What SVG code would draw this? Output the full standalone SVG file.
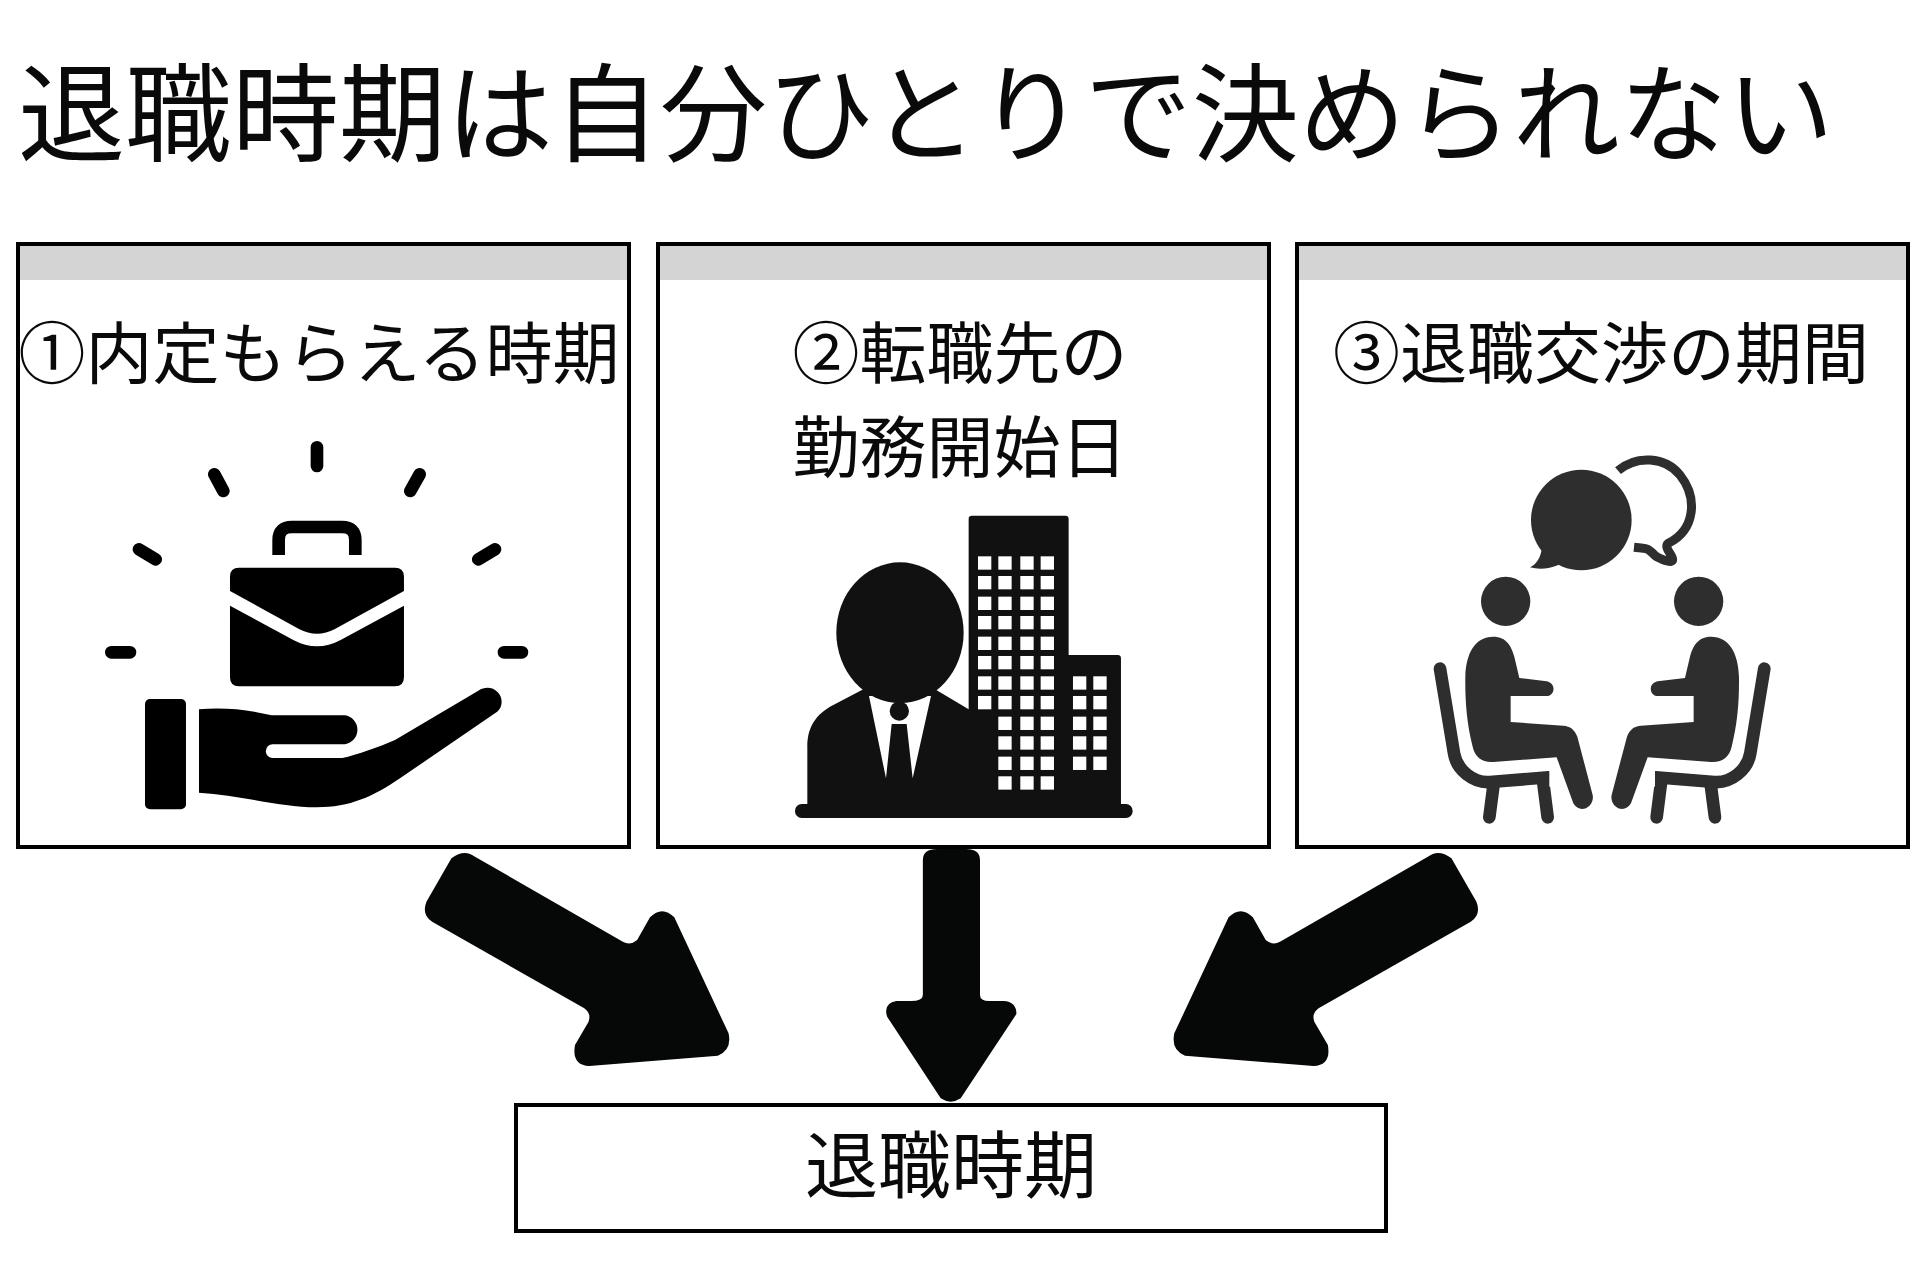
<svg xmlns="http://www.w3.org/2000/svg" width="1920" height="1280" viewBox="0 0 1920 1280">
<style>
text{font-family:"Noto Sans CJK JP","Noto Sans CJK SC",sans-serif;fill:#0a0a0a;font-weight:400}
.title{font-size:107px}
.lbl{font-size:67px;text-anchor:middle}
.box{fill:#fff;stroke:#000;stroke-width:4}
.band{fill:#d4d4d4}
.k{fill:#000}
.b{fill:#111}
.d{fill:#2e2e2e}
.w{fill:#fff}
.ray{stroke:#000;stroke-width:38;stroke-linecap:round;fill:none}
.ch{stroke:#2e2e2e;stroke-width:38;fill:none}
.arrow{fill:#050807}
</style>
<defs>
<rect id="win" class="w" width="40" height="40"/>
<g id="sitter">
<path class="d" d="M250,590C290,590 305,620 313,650L328,714L410,724C440,730 435,768 410,768H302V846L460,857C480,858 495,870 502,890L548,1065C555,1100 510,1125 490,1090L440,952L250,966C215,968 195,950 188,920C170,850 165,780 166,710C168,640 195,590 250,590Z"/>
<circle class="d" cx="287" cy="484" r="74"/>
<path class="ch" stroke-linecap="round" d="M90,686L132,940C140,990 190,1030 240,1026L416,1012"/>
<path class="ch" stroke-linecap="round" d="M250,1040L238,1132M400,1030L413,1132"/>
<path class="w" d="M418,985H440V1040H418Z"/>
</g>
</defs>
<rect width="1920" height="1280" fill="#fff"/>
<text id="title" class="title" x="18" y="153">退職時期は自分ひとりで決められない</text>

<g id="node-1">
<rect class="box" x="18" y="244" width="611" height="603"/>
<rect class="band" x="20" y="246" width="607" height="34"/>
<text class="lbl" x="319" y="378">①内定もらえる時期</text>
<g transform="translate(90,430) scale(.3333)">
<path class="ray" d="M681,52V108M373,133L400,183M147,358L197,388M64,667H120M1296,667H1242M1215,358L1165,388M989,133L961,183"/>
<path d="M566,375V330Q566,291 606,291H756Q796,291 796,330V375" fill="none" stroke="#000" stroke-width="38"/>
<path class="k" d="M420,483V440Q420,413 447,413H915Q942,413 942,440V483L735,597Q681,625 627,597Z"/>
<path class="k" d="M420,527L610,630Q681,668 752,630L942,527V742Q942,769 915,769H447Q420,769 420,742Z"/>
<rect class="k" x="165" y="807" width="123" height="331" rx="15"/>
<path class="k" d="M327,838C400,832 470,838 545,856H765A44,44 0 0 1 765,943H548A20,20 0 0 0 548,984H757C800,975 870,950 915,930L1165,782C1200,760 1235,785 1235,815C1235,830 1228,842 1215,850L930,1045C850,1100 780,1132 680,1132C570,1132 450,1095 327,1088Z"/>
</g>
</g>

<g id="node-2">
<rect class="box" x="658" y="244" width="611" height="603"/>
<rect class="band" x="660" y="246" width="607" height="34"/>
<text class="lbl" x="960" y="378">②転職先の</text>
<text class="lbl" x="960" y="472">勤務開始日</text>
<g transform="translate(780,500) scale(.3333)">
<path class="b" d="M566,57Q566,47 576,47H856Q866,47 866,57V465H1013Q1023,465 1023,475V930H566Z"/>
<rect class="b" x="45" y="912" width="1013" height="42" rx="20"/>
<path class="b" d="M82,930V740C82,690 100,650 150,620L250,568H465L566,628L660,640V930Z"/>
<path class="w" d="M267,588H453L398,835L380,672H335L318,835Z"/>
<ellipse class="b" cx="360" cy="398" rx="191" ry="211"/>
<circle class="b" cx="358" cy="633" r="29"/>
<g id="tower-windows">
<use href="#win" x="594" y="169"/><use href="#win" x="655" y="169"/><use href="#win" x="721" y="169"/><use href="#win" x="782" y="169"/>
<use href="#win" x="594" y="228"/><use href="#win" x="655" y="228"/><use href="#win" x="721" y="228"/><use href="#win" x="782" y="228"/>
<use href="#win" x="594" y="290"/><use href="#win" x="655" y="290"/><use href="#win" x="721" y="290"/><use href="#win" x="782" y="290"/>
<use href="#win" x="594" y="348"/><use href="#win" x="655" y="348"/><use href="#win" x="721" y="348"/><use href="#win" x="782" y="348"/>
<use href="#win" x="594" y="410"/><use href="#win" x="655" y="410"/><use href="#win" x="721" y="410"/><use href="#win" x="782" y="410"/>
<use href="#win" x="594" y="468"/><use href="#win" x="655" y="468"/><use href="#win" x="721" y="468"/><use href="#win" x="782" y="468"/>
<use href="#win" x="594" y="529"/><use href="#win" x="655" y="529"/><use href="#win" x="721" y="529"/><use href="#win" x="782" y="529"/>
<use href="#win" x="594" y="588"/><use href="#win" x="655" y="588"/><use href="#win" x="721" y="588"/><use href="#win" x="782" y="588"/>
<use href="#win" x="655" y="650"/><use href="#win" x="721" y="650"/><use href="#win" x="782" y="650"/>
<use href="#win" x="655" y="709"/><use href="#win" x="721" y="709"/><use href="#win" x="782" y="709"/>
<use href="#win" x="655" y="770"/><use href="#win" x="721" y="770"/><use href="#win" x="782" y="770"/>
<use href="#win" x="655" y="829"/><use href="#win" x="721" y="829"/><use href="#win" x="782" y="829"/>
</g>
<g id="small-windows">
<use href="#win" x="879" y="529"/><use href="#win" x="940" y="529"/>
<use href="#win" x="879" y="588"/><use href="#win" x="940" y="588"/>
<use href="#win" x="879" y="650"/><use href="#win" x="940" y="650"/>
<use href="#win" x="879" y="709"/><use href="#win" x="940" y="709"/>
<use href="#win" x="879" y="770"/><use href="#win" x="940" y="770"/>
</g>
</g>
</g>

<g id="node-3">
<rect class="box" x="1297" y="244" width="611" height="603"/>
<rect class="band" x="1299" y="246" width="607" height="34"/>
<text class="lbl" x="1601" y="378">③退職交渉の期間</text>
<g transform="translate(1410,440) scale(.3333)">
<circle class="d" cx="514" cy="240" r="151"/>
<path class="d" d="M395,330C390,355 380,372 360,382C390,390 420,385 445,375L480,340Z"/>
<path d="M624,92C680,45 765,50 810,105C865,175 855,270 775,310C760,322 788,345 788,358C788,372 760,360 740,350C725,340 720,325 700,325L672,322" fill="none" stroke="#2e2e2e" stroke-width="27"/>
<use href="#sitter"/>
<use href="#sitter" transform="matrix(-1 0 0 1 1153 0)"/>
</g>
</g>

<g id="connectors" transform="translate(400,830) scale(.71429,.33333)">
<path id="arrow-left" class="arrow" d="M72,85Q90,55 105,80L312,335Q322,348 332,330L350,262Q367,225 384,262L460,610Q465,660 445,677L265,708Q240,705 245,645L264,575Q268,550 258,535L45,275Q30,255 37,215Z"/>
<path id="arrow-mid" class="arrow" d="M732,90Q732,57 752,57H792Q812,57 812,90V495Q812,513 825,513H845Q863,515 863,552L785,805Q771,825 757,805L682,560Q676,520 695,513H715Q732,513 732,495Z"/>
<path id="arrow-right" class="arrow" transform="matrix(-1 0 0 1 1544 0)" d="M72,85Q90,55 105,80L312,335Q322,348 332,330L350,262Q367,225 384,262L460,610Q465,660 445,677L265,708Q240,705 245,645L264,575Q268,550 258,535L45,275Q30,255 37,215Z"/>
</g>

<g id="node-result">
<rect class="box" x="516" y="1105" width="870" height="126"/>
<text class="lbl" x="951" y="1192" style="font-size:73px">退職時期</text>
</g>
</svg>
